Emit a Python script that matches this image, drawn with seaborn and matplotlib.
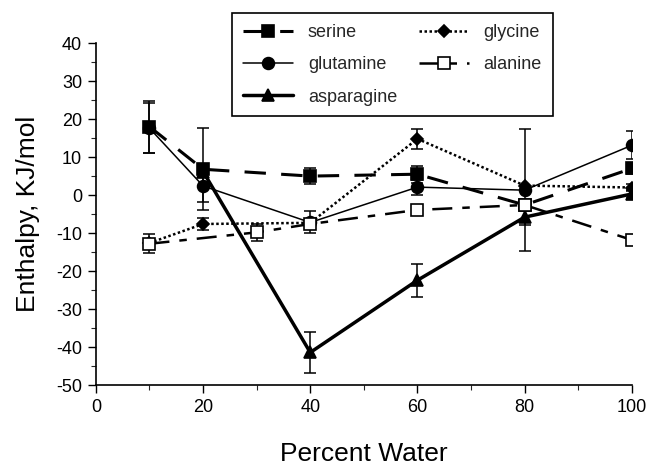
import matplotlib
matplotlib.use("Agg")
import matplotlib.pyplot as plt
from matplotlib.ticker import MultipleLocator
import seaborn as sns

# ---- data ----
series_names = ["serine", "glutamine", "asparagine", "glycine", "alanine"]

serine_x = [10, 20, 40, 60, 80, 100]
serine_y = [18.0, 6.8, 5.0, 5.5, -2.6, 7.0]
serine_err = [6.8, 10.8, 2.0, 2.2, 0.0, 1.5]

glutamine_x = [10, 20, 40, 60, 80, 100]
glutamine_y = [17.6, 2.4, -7.2, 2.1, 1.3, 13.1]
glutamine_err = [6.5, 4.2, 2.9, 2.0, 16.0, 3.7]

asparagine_x = [20, 40, 60, 80, 100]
asparagine_y = [6.2, -41.4, -22.4, -5.8, 0.3]
asparagine_err = [0.0, 5.3, 4.3, 2.0, 1.0]

glycine_x = [10, 20, 40, 60, 80, 100]
glycine_y = [-12.6, -7.6, -7.3, 14.8, 2.5, 2.0]
glycine_err = [0.0, 1.5, 0.0, 2.7, 0.0, 0.8]

alanine_x = [10, 30, 40, 60, 80, 100]
alanine_y = [-12.8, -9.8, -7.6, -3.9, -2.6, -11.8]
alanine_err = [2.5, 2.2, 0.0, 0.0, 0.0, 1.0]

x_ticks = [0, 20, 40, 60, 80, 100]
y_ticks = [-50, -40, -30, -20, -10, 0, 10, 20, 30, 40]
x_label = "Percent Water"
y_label = "Enthalpy, KJ/mol"

# ---- styling ----
sns.set_theme(style="ticks")
plt.rcParams["font.family"] = ["Liberation Sans", "DejaVu Sans"]
plt.rcParams["axes.unicode_minus"] = False

styles = {
    "serine":     dict(lw=2.2, ls=(0, (7, 5)),       marker="s", ms=8.5, mfc="black"),
    "glutamine":  dict(lw=1.1, ls="-",               marker="o", ms=8.5, mfc="black"),
    "asparagine": dict(lw=2.5, ls="-",               marker="^", ms=9,   mfc="black"),
    "glycine":    dict(lw=1.8, ls=(0, (1, 1)),       marker="D", ms=6.5, mfc="black"),
    "alanine":    dict(lw=1.8, ls=(0, (8, 4, 3, 4)), marker="s", ms=8.5, mfc="white"),
}

data = {
    "serine": (serine_x, serine_y, serine_err),
    "glutamine": (glutamine_x, glutamine_y, glutamine_err),
    "asparagine": (asparagine_x, asparagine_y, asparagine_err),
    "glycine": (glycine_x, glycine_y, glycine_err),
    "alanine": (alanine_x, alanine_y, alanine_err),
}

fig, ax = plt.subplots(figsize=(6.48, 4.68), dpi=100)
fig.subplots_adjust(left=0.148, right=0.975, bottom=0.177, top=0.908)

for name in series_names:
    xs, ys, es = data[name]
    st = styles[name]
    ax.errorbar(xs, ys, yerr=es, fmt="none", ecolor="black", elinewidth=1.1,
                capsize=4.5, capthick=1.1, zorder=2)
    sns.lineplot(x=xs, y=ys, ax=ax, color="black", linewidth=st["lw"],
                 linestyle=st["ls"], marker=st["marker"], markersize=st["ms"],
                 markerfacecolor=st["mfc"], markeredgecolor="black",
                 markeredgewidth=1.2, label=name, errorbar=None, sort=False,
                 zorder=3)

ax.set_xlim(0, 100)
ax.set_ylim(-50, 40)
ax.set_xticks(x_ticks)
ax.set_yticks(y_ticks)
ax.xaxis.set_minor_locator(MultipleLocator(10))
ax.yaxis.set_minor_locator(MultipleLocator(5))
ax.tick_params(axis="both", which="major", labelsize=13, length=6, width=1,
               direction="out", pad=4, colors="black")
ax.tick_params(axis="both", which="minor", length=3.5, width=0.8, direction="out")
for s in ["top", "right"]:
    ax.spines[s].set_visible(False)
for s in ["left", "bottom"]:
    ax.spines[s].set_linewidth(1.2)
    ax.spines[s].set_color("black")

ax.set_xlabel(x_label, fontsize=19, color="black")
ax.set_ylabel(y_label, fontsize=19, color="black")
ax.xaxis.set_label_coords(0.5, -0.167)
ax.yaxis.set_label_coords(-0.105, 0.5)

handles, labels = ax.get_legend_handles_labels()
if ax.get_legend():
    ax.get_legend().remove()
leg = fig.legend(handles, labels, loc="upper left",
                 bbox_to_anchor=(232 / 648, 1 - 13 / 468), ncol=2,
                 fontsize=13, frameon=True, fancybox=False, edgecolor="black",
                 framealpha=1, borderpad=0.6, borderaxespad=0,
                 handlelength=2.8, handletextpad=0.8, columnspacing=1.2,
                 labelspacing=0.85)
leg.get_frame().set_linewidth(1.2)

fig.savefig("out.png", dpi=100)
